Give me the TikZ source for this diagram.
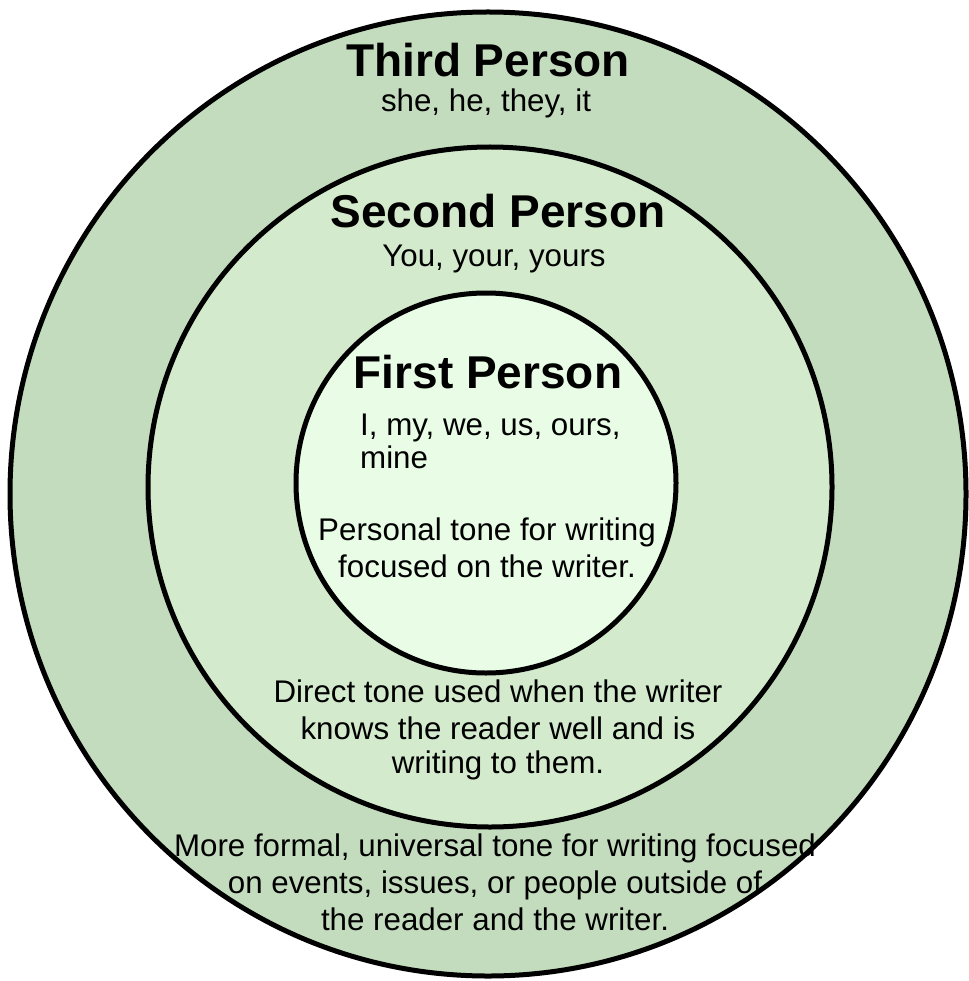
\documentclass[tikz,border=0pt]{standalone}
\usepackage{fontspec}
\setmainfont{Liberation Sans}
\usetikzlibrary{positioning}

\definecolor{outergreen}{RGB}{196,220,190}
\definecolor{midgreen}{RGB}{211,234,204}
\definecolor{innergreen}{RGB}{232,252,230}

\begin{document}
\begin{tikzpicture}[
  x=1pt, y=-1pt,
  ring/.style={draw=black, line width=5pt},
  head/.style={anchor=base, inner sep=0pt, font=\fontsize{46}{52}\selectfont\bfseries},
  body/.style={anchor=base, inner sep=0pt, align=center, font=\fontsize{31.3}{37}\selectfont}
]
\useasboundingbox (0,0) rectangle (968,981);
% rings, outside in
\draw[ring, fill=outergreen] (488,494) ellipse [x radius=478pt, y radius=482pt];
\draw[ring, fill=midgreen] (490,487) ellipse [x radius=342pt, y radius=340pt];
\draw[ring, fill=innergreen] (486,483) circle [radius=190pt];

% third person (base = last line)
\node[head] (third) at (488,77) {Third Person};
\node[body] (thirdwords) at (486,112) {she, he, they, it};
\node[body] (thirdtone) at (495,930) {More formal, universal tone for writing focused\\on events, issues, or people outside of\\the reader and the writer.};

% second person
\node[head] (second) at (498,228) {Second Person};
\node[body] (secondwords) at (494,266) {You, your, yours};
\node[body] (secondtone) at (498,773) {Direct tone used when the writer\\knows the reader well and is\\[-3pt]writing to them.};

% first person
\node[head] (first) at (488,388) {First Person};
\node[body, align=left, anchor=base west] (firstwords) at (360,468) {I, my, we, us, ours,\\[-4pt]mine};
\node[body] (firsttone) at (487,577) {Personal tone for writing\\focused on the writer.};
\end{tikzpicture}
\end{document}
